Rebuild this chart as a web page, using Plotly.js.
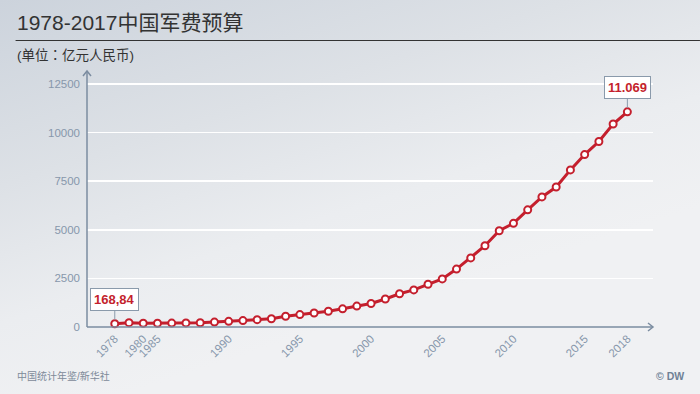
<!DOCTYPE html>
<html>
<head>
<meta charset="utf-8">
<script src="https://cdn.plot.ly/plotly-3.0.1.min.js"></script>
<style>
html,body{margin:0;padding:0;}
body{width:700px;height:394px;overflow:hidden;
background:linear-gradient(162deg,#ccd3dc 0%,#dde1e6 30%,#ebedf0 52%,#f0f1f3 70%,#f0f1f3 100%);}
#chart{width:700px;height:394px;}
</style>
</head>
<body>
<div id="chart"></div>
<script>
// Data
const years = ["1978","1979","1980","1985","1986","1987","1988","1989","1990","1991","1992","1993","1994","1995","1996","1997","1998","1999","2000","2001","2002","2003","2004","2005","2006","2007","2008","2009","2010","2011","2012","2013","2014","2015","2016","2017","2018"];
const budget = [168.84,222.64,193.84,191.53,200.75,209.62,218.00,251.47,290.31,330.31,377.86,425.80,550.71,636.72,720.06,812.57,934.70,1076.40,1207.54,1442.04,1707.78,1907.87,2200.01,2474.96,2979.38,3554.91,4178.76,4951.10,5333.37,6027.91,6691.92,7201.68,8082.30,8868.98,9543.54,10443.97,11069.51];
const tickYears = ["1978","1980","1985","1990","1995","2000","2005","2010","2015","2018"];
const yTicks = [0,2500,5000,7500,10000,12500];
const firstLabel = "168,84";
const lastLabel = "11.069";

const W = 700, H = 394;
const M = {l:86.5, r:47, t:71, b:67};
const pw = W - M.l - M.r, ph = H - M.t - M.b;
const px = x => (x - M.l) / pw;
const py = y => 1 - (y - M.t) / ph;

const idx = years.map((_, i) => i);
const tickvals = tickYears.map(y => years.indexOf(y));

const red = '#c41f2d';
const axisCol = '#7b8ca0';
const tickCol = '#8797ab';
const CJK = 'Liberation Sans, Arial, Noto Sans CJK SC, sans-serif';
const CJK_TC = 'Liberation Sans, Arial, Noto Sans CJK TC, sans-serif';

const trace = {
  x: idx, y: budget, type: 'scatter', mode: 'lines+markers',
  line: {color: red, width: 3},
  marker: {symbol: 'circle', size: 7, color: '#ffffff', line: {color: red, width: 2}},
  hoverinfo: 'skip', cliponaxis: false
};

const layout = {
  width: W, height: H,
  margin: M,
  paper_bgcolor: 'rgba(0,0,0,0)',
  plot_bgcolor: 'rgba(0,0,0,0)',
  showlegend: false,
  font: {family: CJK},
  xaxis: {
    range: [-1.95, 37.8], tickmode: 'array', tickvals: tickvals, ticktext: tickYears,
    tickangle: -45, tickfont: {size: 11.5, color: tickCol},
    showgrid: false, zeroline: false, showline: false, ticks: '', ticklen: 0, fixedrange: true,
    ticklabelstandoff: 2
  },
  yaxis: {
    range: [0, 13170], tickmode: 'array', tickvals: yTicks, ticktext: yTicks.map(String),
    tickfont: {size: 11.5, color: tickCol}, ticks: '', showgrid: true,
    gridcolor: '#ffffff', gridwidth: 1.5, zeroline: false, showline: false, ticklabelstandoff: 6, fixedrange: true
  },
  shapes: [
    {type: 'line', xref: 'paper', yref: 'paper', x0: px(15), x1: px(700), y0: py(40.5), y1: py(40.5), line: {color: '#333333', width: 1}},
    {type: 'line', xref: 'paper', yref: 'paper', x0: 0, x1: 1, y0: 0, y1: 0, line: {color: axisCol, width: 1.5}},
    {type: 'line', xref: 'paper', yref: 'paper', x0: 0, x1: 0, y0: 0, y1: 1, line: {color: axisCol, width: 1.5}},
    {type: 'path', xref: 'paper', yref: 'paper', xsizemode: 'pixel', ysizemode: 'pixel', xanchor: 1, yanchor: 0,
     path: 'M-5,4 L0,0 L-5,-4', line: {color: axisCol, width: 1.5}},
    {type: 'path', xref: 'paper', yref: 'paper', xsizemode: 'pixel', ysizemode: 'pixel', xanchor: 0, yanchor: 1,
     path: 'M-4,-5 L0,0 L4,-5', line: {color: axisCol, width: 1.5}}
  ],
  annotations: [
    {xref: 'paper', yref: 'paper', x: px(14), y: py(31), xanchor: 'left', yanchor: 'bottom', showarrow: false,
     text: '1978-2017中国军费预算', font: {size: 21, color: '#333333', family: CJK}, yshift: -5},
    {xref: 'paper', yref: 'paper', x: px(14), y: py(55), xanchor: 'left', yanchor: 'middle', showarrow: false,
     text: '(单位：亿元人民币)', font: {size: 13.5, color: '#333333', family: CJK_TC}},
    {xref: 'paper', yref: 'paper', x: px(14), y: py(376), xanchor: 'left', yanchor: 'middle', showarrow: false,
     text: '中国统计年鉴/新华社', font: {size: 10, color: '#7d8a99', family: CJK}},
    {xref: 'paper', yref: 'paper', x: px(686), y: py(375.5), xanchor: 'right', yanchor: 'middle', showarrow: false,
     text: '<b>© DW</b>', font: {size: 10.5, color: '#6f8196', family: CJK}},
    {x: 0, y: budget[0], xref: 'x', yref: 'y', text: '<b>' + firstLabel + '</b>', showarrow: true, arrowhead: 0,
     arrowwidth: 1, arrowcolor: '#8a9aab', ax: 0, ay: -24, standoff: 4, bgcolor: '#ffffff', bordercolor: '#8a9aab',
     borderwidth: 1, borderpad: 3, font: {size: 13, color: red, family: 'Liberation Sans, Arial, sans-serif'}},
    {x: years.length - 1, y: budget[budget.length - 1], xref: 'x', yref: 'y', text: '<b>' + lastLabel + '</b>', showarrow: true, arrowhead: 0,
     arrowwidth: 1, arrowcolor: '#8a9aab', ax: 0, ay: -24, standoff: 4, bgcolor: '#ffffff', bordercolor: '#8a9aab',
     borderwidth: 1, borderpad: 3, font: {size: 13, color: red, family: 'Liberation Sans, Arial, sans-serif'}}
  ]
};

Plotly.newPlot('chart', [trace], layout, {staticPlot: true, displayModeBar: false});
</script>
</body>
</html>
